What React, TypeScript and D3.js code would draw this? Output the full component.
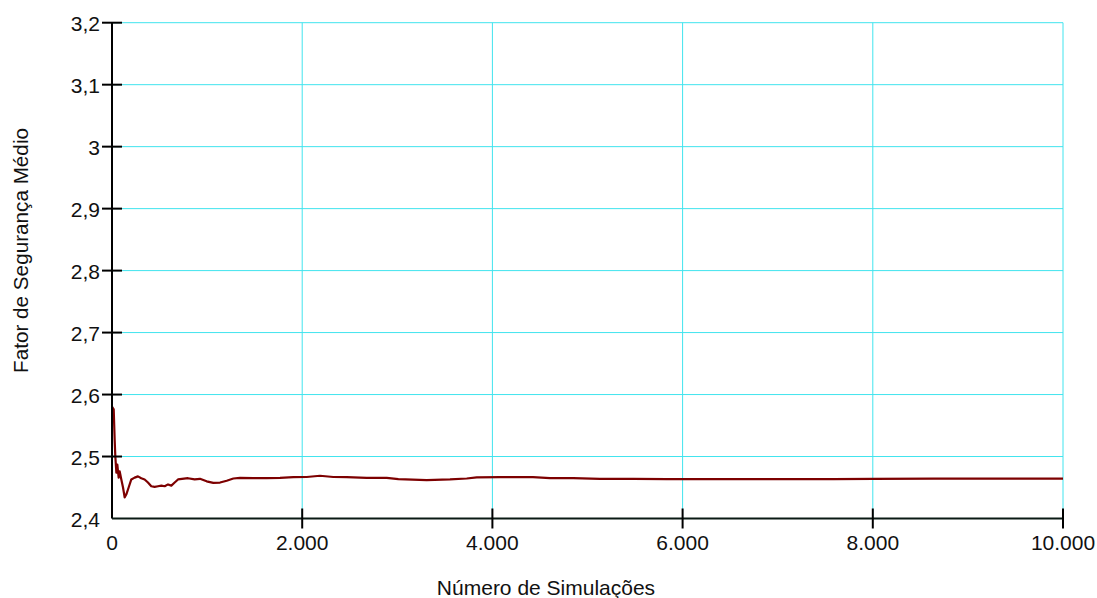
import React from "react";
import * as d3 from "d3";

const iterations: number[] = [
  1, 18, 28, 35, 46, 56, 70, 81, 98, 116, 133, 151, 175, 203, 238, 273, 308, 343, 378, 413, 448, 484, 519, 554, 589, 624, 659, 694, 799, 869, 925, 995, 1065, 1136, 1206, 1276, 1346, 1486, 1627, 1767, 1907, 2047, 2187, 2327, 2468, 2678, 2889, 3011, 3309, 3554, 3730, 3835, 4080, 4427, 4606, 4850, 5131, 5481, 5836, 6183, 6884, 7585, 8006, 8638, 9338, 10000,
];
const meanFS: number[] = [
  2.58, 2.576, 2.527, 2.5, 2.474, 2.487, 2.466, 2.476, 2.463, 2.45, 2.434, 2.439, 2.45, 2.463, 2.466, 2.468, 2.465, 2.463, 2.458, 2.452, 2.451, 2.452, 2.453, 2.452, 2.455, 2.453, 2.458, 2.463, 2.465, 2.463, 2.464, 2.46, 2.4575, 2.458, 2.461, 2.4645, 2.4655, 2.465, 2.465, 2.4655, 2.4667, 2.467, 2.469, 2.467, 2.4667, 2.4655, 2.4655, 2.4635, 2.462, 2.463, 2.4645, 2.4665, 2.4667, 2.4667, 2.465, 2.465, 2.464, 2.464, 2.4635, 2.4635, 2.4635, 2.4635, 2.464, 2.4645, 2.4645, 2.4645,
];
const xTicks: number[] = [0, 2000, 4000, 6000, 8000, 10000];
const yTicks: number[] = [2.4, 2.5, 2.6, 2.7, 2.8, 2.9, 3.0, 3.1, 3.2];
const xTitle = "Número de Simulações";
const yTitle = "Fator de Segurança Médio";

const fmtX = (v: number) => (v === 0 ? "0" : d3.format(",")(v).replace(/,/g, "."));
const fmtY = (v: number) => (Math.abs(v - 3) < 1e-9 ? "3" : v.toFixed(1).replace(".", ","));

export default function App() {
  const W = 1097;
  const H = 598;
  const x = d3.scaleLinear().domain([0, 10000]).range([112, 1063]);
  const y = d3.scaleLinear().domain([2.4, 3.2]).range([518.5, 22.7]);
  const pts = iterations.map((it, i) => [it, meanFS[i]] as [number, number]);
  const line = d3
    .line<[number, number]>()
    .x((d) => x(d[0]))
    .y((d) => y(d[1]));
  const font = "'Liberation Sans', Arial, sans-serif";
  const grid = "#40e4ee";
  return (
    <svg
      width={W}
      height={H}
      style={{ position: "absolute", left: 0, top: 0, background: "#fff" }}
      fontFamily={font}
    >
      {yTicks.slice(1).map((t) => (
        <line key={"gy" + t} x1={x(0)} x2={x(10000)} y1={y(t)} y2={y(t)} stroke={grid} strokeWidth={1} />
      ))}
      {xTicks.slice(1).map((t) => (
        <line key={"gx" + t} x1={x(t)} x2={x(t)} y1={y(3.2)} y2={y(2.4)} stroke={grid} strokeWidth={1} />
      ))}
      <path d={line(pts) || ""} fill="none" stroke="#7d0000" strokeWidth={2.2} strokeLinejoin="round" />
      <line x1={x(0)} x2={x(0)} y1={y(3.2)} y2={y(2.4)} stroke="#000" strokeWidth={2} />
      <line x1={x(0)} x2={x(10000)} y1={y(2.4)} y2={y(2.4)} stroke="#0a1a14" strokeWidth={2} />
      {yTicks.slice(1).map((t) => (
        <line key={"ty" + t} x1={102} x2={122} y1={y(t)} y2={y(t)} stroke="#000" strokeWidth={2} />
      ))}
      {xTicks.slice(1).map((t) => (
        <line key={"tx" + t} x1={x(t)} x2={x(t)} y1={y(2.4) - 10} y2={y(2.4) + 10} stroke="#000" strokeWidth={2} />
      ))}
      {yTicks.map((t) => (
        <text key={"ly" + t} x={100} y={y(t) + 8} textAnchor="end" fontSize={21} fill="#111">
          {fmtY(t)}
        </text>
      ))}
      {xTicks.map((t) => (
        <text key={"lx" + t} x={x(t)} y={550} textAnchor="middle" fontSize={21} fill="#111">
          {fmtX(t)}
        </text>
      ))}
      <text x={546} y={595} textAnchor="middle" fontSize={21} fill="#111">
        {xTitle}
      </text>
      <text
        transform={`translate(27.5,250.5) rotate(-90)`}
        textAnchor="middle"
        fontSize={20.7}
        fill="#111"
      >
        {yTitle}
      </text>
    </svg>
  );
}
